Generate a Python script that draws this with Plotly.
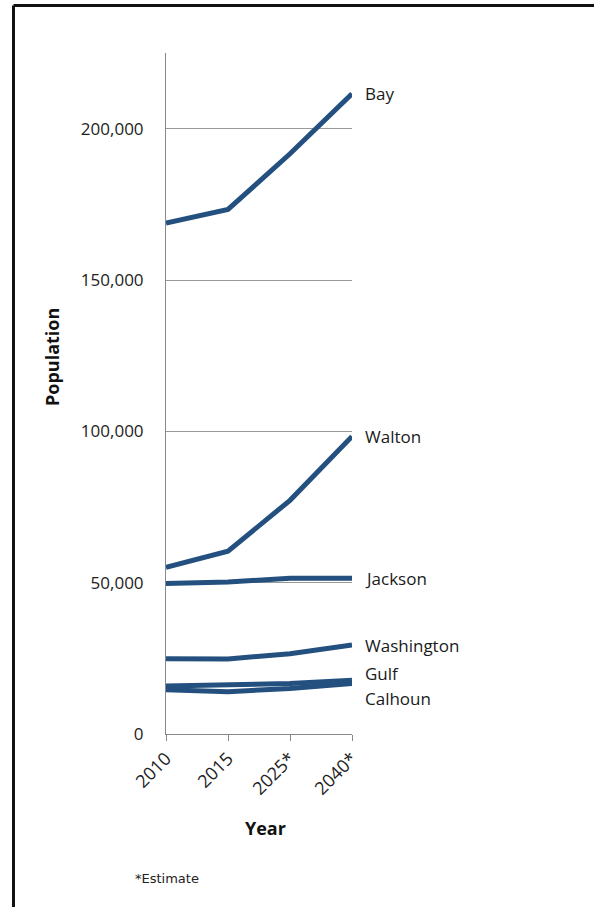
import plotly.graph_objects as go

years = ["2010", "2015", "2025*", "2040*"]
counties = ["Bay", "Walton", "Jackson", "Washington", "Gulf", "Calhoun"]
bay = [168852, 173300, 191700, 211500]
walton = [55043, 60400, 77200, 98300]
jackson = [49746, 50200, 51500, 51500]
washington = [24896, 24800, 26500, 29400]
gulf = [15863, 16200, 16700, 17800]
calhoun = [14625, 14000, 15000, 16700]
series = [bay, walton, jackson, washington, gulf, calhoun]
label_yshift = [0, 0, 0, 0, 7, -15]
y_ticks = [0, 50000, 100000, 150000, 200000]
y_tick_text = ["0", "50,000", "100,000", "150,000", "200,000"]

W, H = 594, 907
L, R, T, B = 166, 352, 53, 734
FONT = "Open Sans, Liberation Sans, sans-serif"
LINE = "#24507f"

fig = go.Figure()
for name, vals in zip(counties, series):
    fig.add_trace(go.Scatter(x=list(range(len(years))), y=vals, mode="lines", name=name,
                             line=dict(color=LINE, width=5), showlegend=False))

for name, vals, ys in zip(counties, series, label_yshift):
    fig.add_annotation(x=len(years) - 1, y=vals[-1], xref="x", yref="y", text=name,
                       showarrow=False, xanchor="left", yanchor="middle", xshift=11, yshift=ys,
                       font=dict(family=FONT, size=17, color="#1a1a1a"))

pw, ph = R - L, B - T
def px(x):
    return (x - L) / pw
def py(y):
    return (B - y) / ph

fig.add_annotation(x=px(52), y=py(357), xref="paper", yref="paper", text="<b>Population</b>",
                   textangle=-90, showarrow=False, xanchor="center", yanchor="middle",
                   font=dict(family=FONT, size=18, color="#111"))
fig.add_annotation(x=px(265), y=py(828), xref="paper", yref="paper", text="<b>Year</b>",
                   showarrow=False, xanchor="center", yanchor="middle",
                   font=dict(family=FONT, size=18, color="#111"))
fig.add_annotation(x=px(133), y=py(878), xref="paper", yref="paper", text="*Estimate",
                   showarrow=False, xanchor="left", yanchor="middle",
                   font=dict(family="DejaVu Sans, sans-serif", size=13, color="#222"))

# frame lines (top and left)
fig.add_shape(type="line", xref="paper", yref="paper", x0=px(13.5), x1=px(600), y0=py(5.5), y1=py(5.5),
              line=dict(color="#111", width=3))
fig.add_shape(type="line", xref="paper", yref="paper", x0=px(13.5), x1=px(13.5), y0=py(5.5), y1=py(912),
              line=dict(color="#111", width=3))

fig.update_layout(
    width=W, height=H, margin=dict(l=L, r=W - R, t=T, b=H - B, autoexpand=False),
    plot_bgcolor="white", paper_bgcolor="white",
    font=dict(family=FONT, size=17, color="#222"),
)
fig.update_xaxes(range=[0, len(years) - 1], tickmode="array", tickvals=list(range(len(years))),
                 ticktext=years, tickangle=-45, showgrid=False, showline=True, linecolor="#888",
                 linewidth=1, ticks="outside", ticklen=6, tickcolor="#888", zeroline=False,
                 tickfont=dict(family=FONT, size=18, color="#222"), fixedrange=True)
fig.update_yaxes(range=[0, 225000], tickmode="array", tickvals=y_ticks, ticktext=y_tick_text,
                 showgrid=True, gridcolor="#999", gridwidth=1, showline=True, linecolor="#888",
                 linewidth=1, zeroline=False, ticks="", ticklabelstandoff=18,
                 tickfont=dict(family=FONT, size=17, color="#222"), fixedrange=True)

fig.write_html("out.html")
